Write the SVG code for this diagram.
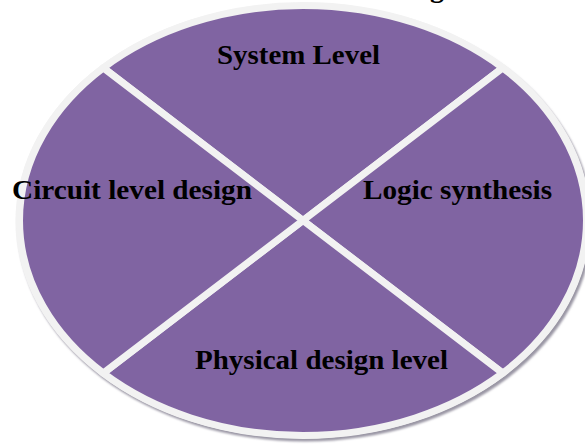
<svg xmlns="http://www.w3.org/2000/svg" width="585" height="444" viewBox="0 0 585 444">
  <style>
    .seg { fill: #8064a2; stroke: #f2f2f2; stroke-width: 7; stroke-linejoin: round; }
    .lbl { font-family: "Liberation Serif", "Times New Roman", serif; font-weight: bold; font-size: 28px; fill: #000; text-anchor: middle; }
  </style>
  <defs>
    <filter id="blur" x="-5%" y="-5%" width="110%" height="110%">
      <feGaussianBlur stdDeviation="0.8"/>
    </filter>
  </defs>
  <rect width="585" height="444" fill="#ffffff"/>
  <text class="lbl" x="437" y="-3">g</text>
  <g id="ring">
    <ellipse cx="305" cy="223.5" rx="287.5" ry="218" fill="#9a96a4" filter="url(#blur)"/>
    <ellipse cx="303" cy="220.5" rx="287.5" ry="218" fill="#f2f2f2"/>
  </g>
  <g id="system-level">
    <path class="seg" d="M303,220.5 L103.3,67.9 A283.5,215 0 0 1 502.7,67.9 Z"/>
    <text class="lbl" x="298.5" y="63.5" textLength="163" lengthAdjust="spacingAndGlyphs">System Level</text>
  </g>
  <g id="logic-synthesis">
    <path class="seg" d="M303,220.5 L502.7,67.9 A283.5,215 0 0 1 502.7,373.1 Z"/>
    <text class="lbl" x="457.5" y="198.5" textLength="189" lengthAdjust="spacingAndGlyphs">Logic synthesis</text>
  </g>
  <g id="physical-design-level">
    <path class="seg" d="M303,220.5 L502.7,373.1 A283.5,215 0 0 1 103.3,373.1 Z"/>
    <text class="lbl" x="321.5" y="368.5" textLength="253" lengthAdjust="spacingAndGlyphs">Physical design level</text>
  </g>
  <g id="circuit-level-design">
    <path class="seg" d="M303,220.5 L103.3,373.1 A283.5,215 0 0 1 103.3,67.9 Z"/>
    <text class="lbl" x="132" y="198.5" textLength="240" lengthAdjust="spacingAndGlyphs">Circuit level design</text>
  </g>
  <g id="connectors"></g>
</svg>
